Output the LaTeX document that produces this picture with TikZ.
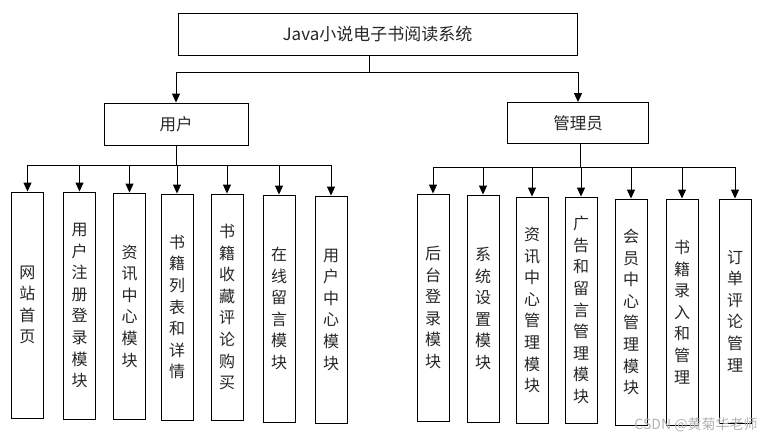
\documentclass[tikz,border=0pt]{standalone}
\usepackage{fontspec}
\newfontfamily\cjk{Noto Sans CJK SC}
\usetikzlibrary{arrows.meta}
\begin{document}
\begin{tikzpicture}[x=1pt,y=-1pt,
  box/.style={draw=black,line width=0.9pt,inner sep=0pt,align=center,font=\cjk\fontsize{16}{21.6}\selectfont,text=black!85},
  vbox/.style={box,minimum width=32pt},
  conn/.style={draw=black,line width=0.9pt},
  arr/.style={conn,-{Triangle[length=9pt,width=8pt]}}]
\useasboundingbox (0,0) rectangle (766,439);
% top
\node[box,minimum width=399pt,minimum height=42pt,font=\cjk\fontsize{17}{20}\selectfont] (top) at (377.5,34) {Java小说电子书阅读系统};
\node[box,minimum width=144pt,minimum height=42pt,font=\cjk\fontsize{16.5}{20}\selectfont] (user) at (176,124) {用户};
\node[box,minimum width=141pt,minimum height=41pt,font=\cjk\fontsize{16.5}{20}\selectfont] (admin) at (578,123) {管理员};
\coordinate (hub) at (369,72);
\draw[conn] (369,55) -- (hub);
\draw[arr] (hub) -| (user.north);
\draw[arr] (hub) -| (admin.north);
% left boxes
\node[vbox,minimum height=226pt] (l1) at (27.5,305) {网\\站\\首\\页};
\node[vbox,minimum height=227pt] (l2) at (79.5,305.5) {用\\户\\注\\册\\登\\录\\模\\块};
\node[vbox,minimum height=226pt] (l3) at (129.5,306) {资\\讯\\中\\心\\模\\块};
\node[vbox,minimum height=226pt] (l4) at (177,307) {书\\籍\\列\\表\\和\\详\\情};
\node[vbox,minimum height=226pt] (l5) at (227,307) {书\\籍\\收\\藏\\评\\论\\购\\买};
\node[vbox,minimum height=227pt] (l6) at (279,308.5) {在\\线\\留\\言\\模\\块};
\node[vbox,minimum height=227pt] (l7) at (331,309.5) {用\\户\\中\\心\\模\\块};
\coordinate (lhub) at (176,165);
\draw[conn] (user.south) -- (lhub);
\draw[conn] (l1.north |- lhub) -- (l7.north |- lhub);
\foreach \n in {l1,l2,l3,l4,l5,l6,l7}
  \draw[arr] (\n.north |- lhub) -- (\n.north);
% right boxes
\node[vbox,minimum height=227pt] (r1) at (433,307.5) {后\\台\\登\\录\\模\\块};
\node[vbox,minimum height=227pt] (r2) at (483,308.5) {系\\统\\设\\置\\模\\块};
\node[vbox,minimum height=226pt] (r3) at (532,310) {资\\讯\\中\\心\\管\\理\\模\\块};
\node[vbox,minimum height=226pt] (r4) at (581,310) {广\\告\\和\\留\\言\\管\\理\\模\\块};
\node[vbox,minimum height=226pt] (r5) at (631,312) {会\\员\\中\\心\\管\\理\\模\\块};
\node[vbox,minimum height=226pt] (r6) at (682,312) {书\\籍\\录\\入\\和\\管\\理};
\node[vbox,minimum height=224pt] (r7) at (735,311) {订\\单\\评\\论\\管\\理};
\coordinate (rhub) at (580,167);
\draw[conn] (580,144) -- (rhub);
\draw[conn] (r1.north |- rhub) -- (r7.north |- rhub);
\foreach \n in {r1,r2,r3,r4,r5,r6,r7}
  \draw[arr] (\n.north |- rhub) -- (\n.north);
% watermark
\node[font=\cjk\fontsize{14}{14}\selectfont,text=black!30,inner sep=0pt] (wm) at (696,425) {CSDN @黄菊华老师};
\end{tikzpicture}
\end{document}
